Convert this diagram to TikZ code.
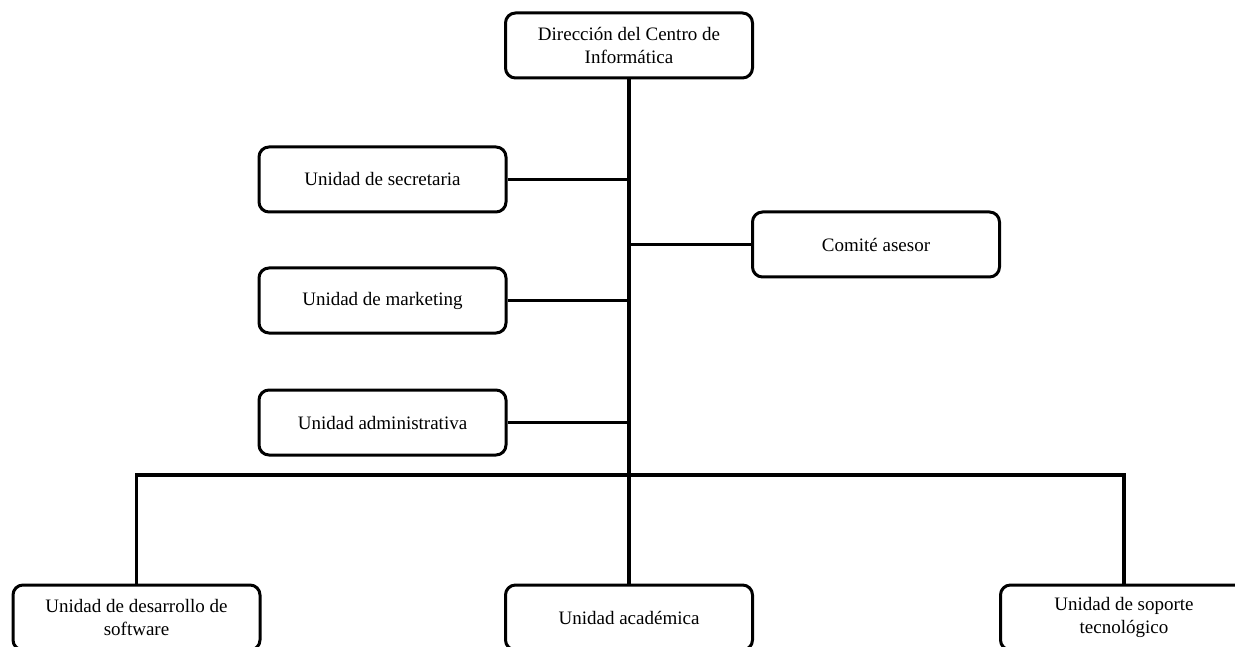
\documentclass[tikz,border=0pt]{standalone}
\usepackage{fontspec}
\setmainfont{Liberation Serif}
\begin{document}
\begin{tikzpicture}[x=1pt,y=-1pt,
  unitbox/.style={draw=black,line width=3pt,rounded corners=10pt,fill=white,
    minimum width=247pt,minimum height=65pt,align=center,inner sep=2pt,
    font=\fontsize{19}{23}\selectfont},
  link/.style={draw=black,line width=3.3pt}]
\clip (0,0) rectangle (1235,647);
\fill[white] (0,0) rectangle (1235,647);

% hub point where the three lower units branch off
\coordinate (bus) at (629,475);

\node[unitbox] (dir) at (629,45.5) {Dirección del Centro de\\Informática};
\node[unitbox] (sec) at (382.5,179.5) {Unidad de secretaria};
\node[unitbox] (mkt) at (382.5,300.5) {Unidad de marketing};
\node[unitbox] (adm) at (382.5,422.5) {Unidad administrativa};
\node[unitbox] (com) at (876,244.5) {Comité asesor};
\node[unitbox] (dev) at (136.5,617.5) {Unidad de desarrollo de\\software};
\node[unitbox] (aca) at (629,617.5) {Unidad académica};
\node[unitbox] (sop) at (1124,617.5) {Unidad de soporte\\tecnológico};

% vertical trunk
\draw[link] (dir.south) -- (aca.north);
% staff units
\draw[link] (sec.east) -- (sec.east -| dir.south);
\draw[link] (mkt.east) -- (mkt.east -| dir.south);
\draw[link] (adm.east) -- (adm.east -| dir.south);
\draw[link] (com.west) -- (com.west -| dir.south);
% lower branch
\draw[link] (dev.north) |- (bus) -| (sop.north);
\end{tikzpicture}
\end{document}
